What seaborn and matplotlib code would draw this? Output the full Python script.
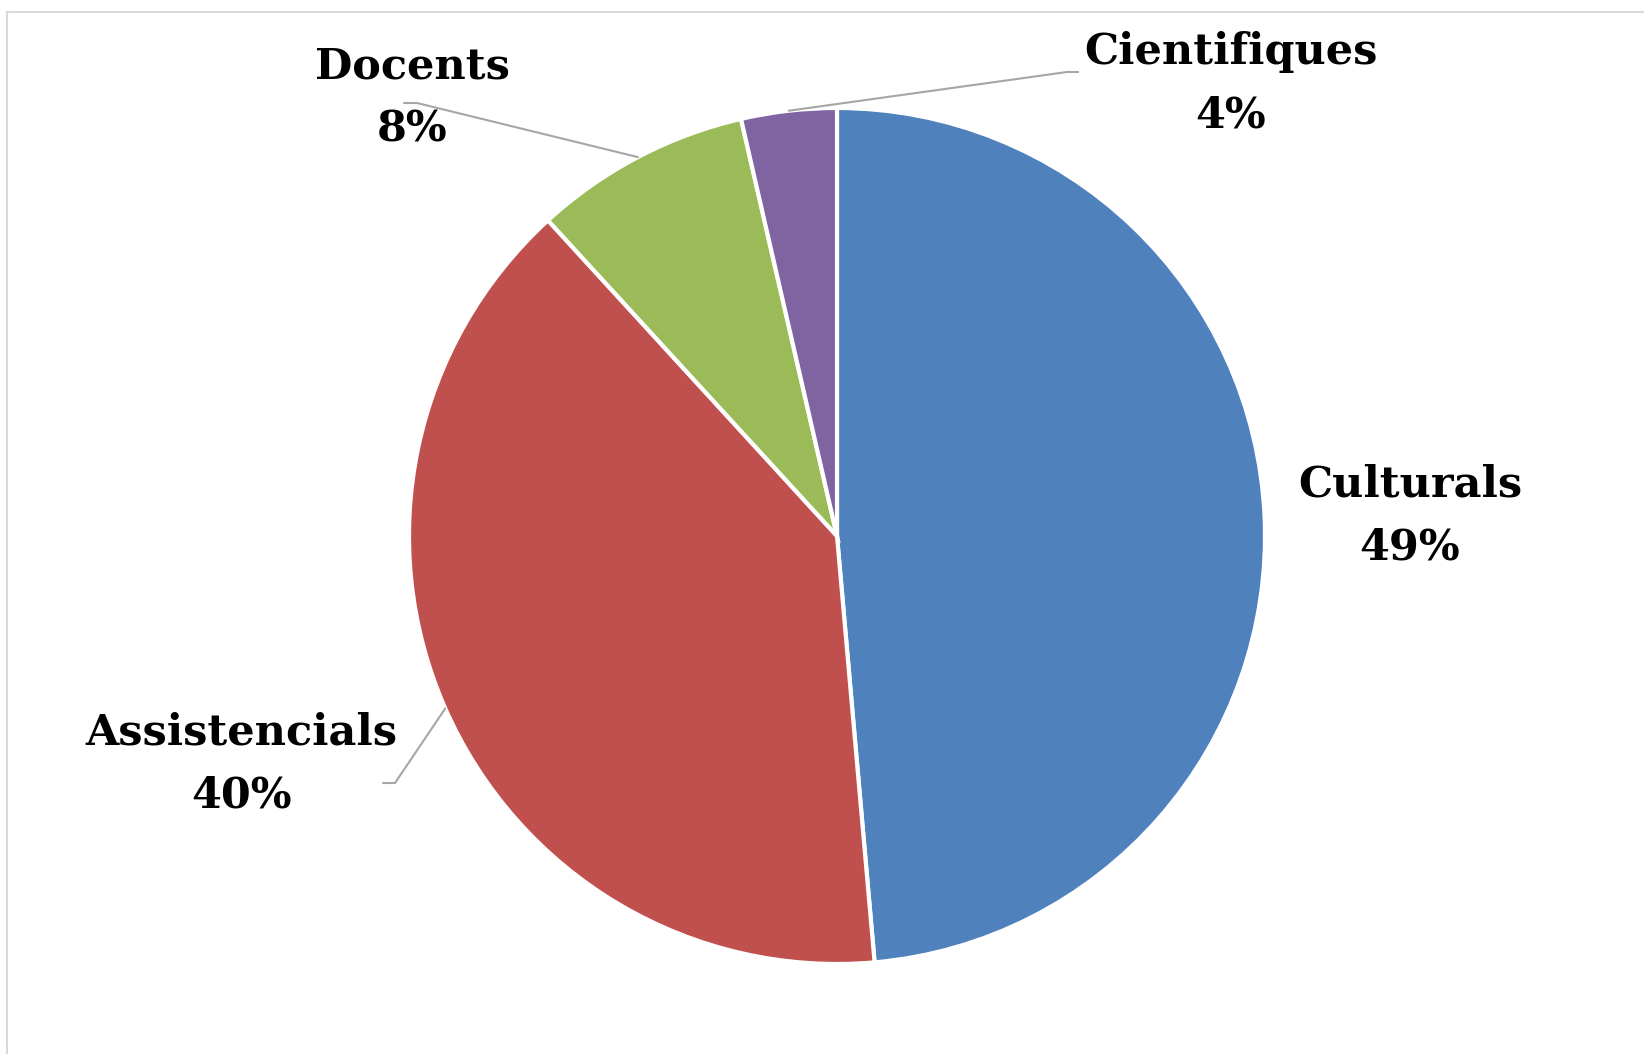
import numpy as np
import matplotlib
matplotlib.use("Agg")
import matplotlib.pyplot as plt
import seaborn as sns

# activity types and their share
categories = ["Culturals", "Assistencials", "Docents", "Cientifiques"]
shares = [48.6, 39.6, 8.2, 3.6]
colors = ["#4F81BD", "#C0504D", "#9BBB59", "#8064A2"]

sns.set_style("white")
plt.rcParams["font.family"] = ["DejaVu Serif"]

W, H = 1644, 1054
fig = plt.figure(figsize=(W / 100, H / 100), dpi=100)
ax = fig.add_axes([0, 0, 1, 1])

cx, cy, r = 837, H - 536, 428
wedges, _ = ax.pie(shares, colors=colors, startangle=90, counterclock=False,
                   center=(cx, cy), radius=r,
                   wedgeprops=dict(edgecolor="white", linewidth=3))
ax.set_xlim(0, W)
ax.set_ylim(0, H)
ax.set_aspect("equal")
ax.axis("off")

# label box centres (pixels, y from top) and the leader elbow, None = no leader
label_pos = {
    "Culturals": (1410, 516, None),
    "Assistencials": (241, 764, (383, 395, 783)),
    "Docents": (412, 98, (404, 417, 103)),
    "Cientifiques": (1231, 84, (1078, 1067, 72)),
}

total = sum(shares)
for w, cat, v in zip(wedges, categories, shares):
    lx, ly, lead = label_pos[cat]
    pct = int(round(v / total * 100))
    ax.text(lx, H - ly, f"{cat}\n{pct}%", ha="center", va="center",
            fontsize=31, fontweight="bold", linespacing=1.65, color="black")
    if lead is not None:
        mid = np.deg2rad((w.theta1 + w.theta2) / 2)
        ax_x = cx + r * np.cos(mid)
        ax_y = cy + r * np.sin(mid)
        x0, x1, ey = lead
        ax.plot([x0, x1, ax_x], [H - ey, H - ey, ax_y], color="#a6a6a6", lw=1.5)

# chart area border
fig.patches.append(plt.Rectangle((7 / W, -0.1), 1.2, (H - 12) / H + 0.1,
                                 transform=fig.transFigure, fill=False,
                                 edgecolor="#d9d9d9", lw=1.5))

fig.savefig("out.png", dpi=100)
